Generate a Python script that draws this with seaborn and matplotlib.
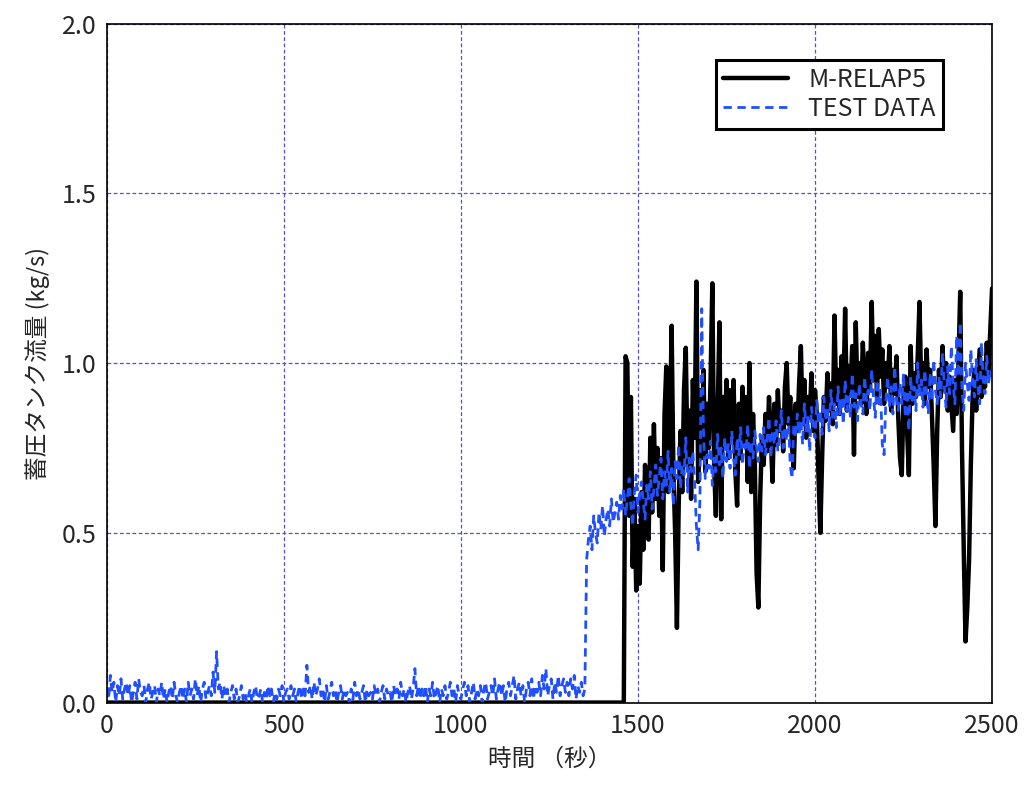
import numpy as np
import pandas as pd
import seaborn as sns
import matplotlib.pyplot as plt
from matplotlib.ticker import MultipleLocator

sns.set_style("white")
plt.rcParams['font.family'] = ['Noto Sans CJK JP', 'DejaVu Sans']

# TEST DATA, before injection : every 5 s from 0 to 1350 s
test_flow_pre = [
    0.04, 0.01, 0.08, 0.03, 0.06, 0.00, 0.05, 0.02, 0.07, 0.01, 0.04, 0.06, 0.02, 0.05, 0.00, 0.03, 0.06, 0.01, 0.07, 0.03,
    0.02, 0.05, 0.00, 0.04, 0.06, 0.01, 0.03, 0.05, 0.00, 0.04, 0.02, 0.06, 0.01, 0.04, 0.00, 0.03, 0.05, 0.01, 0.06, 0.02,
    0.00, 0.03, 0.05, 0.01, 0.04, 0.00, 0.06, 0.02, 0.04, 0.01, 0.07, 0.02, 0.05, 0.00, 0.04, 0.06, 0.01, 0.03, 0.05, 0.02,
    0.09, 0.03, 0.15, 0.04, 0.06, 0.01, 0.05, 0.02, 0.04, 0.00, 0.03, 0.05, 0.01, 0.04, 0.00, 0.02, 0.05, 0.01, 0.03, 0.00,
    0.02, 0.04, 0.00, 0.03, 0.05, 0.01, 0.02, 0.04, 0.00, 0.03, 0.01, 0.05, 0.02, 0.04, 0.00, 0.03, 0.01, 0.04, 0.02, 0.05,
    0.00, 0.03, 0.04, 0.01, 0.05, 0.02, 0.04, 0.00, 0.03, 0.05, 0.01, 0.04, 0.02, 0.11, 0.03, 0.05, 0.01, 0.06, 0.02, 0.04,
    0.07, 0.02, 0.04, 0.00, 0.05, 0.01, 0.03, 0.06, 0.02, 0.04, 0.00, 0.03, 0.05, 0.01, 0.04, 0.02, 0.03, 0.00, 0.04, 0.01,
    0.06, 0.02, 0.04, 0.01, 0.03, 0.05, 0.00, 0.04, 0.02, 0.03, 0.01, 0.05, 0.02, 0.04, 0.00, 0.03, 0.05, 0.01, 0.04, 0.02,
    0.03, 0.00, 0.05, 0.02, 0.04, 0.01, 0.06, 0.02, 0.04, 0.00, 0.03, 0.05, 0.01, 0.04, 0.10, 0.02, 0.05, 0.01, 0.04, 0.02,
    0.05, 0.00, 0.04, 0.02, 0.06, 0.01, 0.03, 0.05, 0.00, 0.04, 0.02, 0.05, 0.01, 0.03, 0.06, 0.02, 0.04, 0.00, 0.05, 0.02,
    0.01, 0.04, 0.06, 0.02, 0.05, 0.00, 0.03, 0.06, 0.01, 0.04, 0.02, 0.05, 0.00, 0.04, 0.06, 0.01, 0.03, 0.05, 0.02, 0.07,
    0.01, 0.04, 0.06, 0.02, 0.05, 0.00, 0.04, 0.06, 0.02, 0.05, 0.08, 0.01, 0.04, 0.06, 0.02, 0.05, 0.00, 0.04, 0.06, 0.02,
    0.07, 0.01, 0.05, 0.03, 0.06, 0.02, 0.08, 0.04, 0.10, 0.02, 0.05, 0.07, 0.01, 0.06, 0.03, 0.08, 0.02, 0.05, 0.07, 0.03,
    0.06, 0.02, 0.07, 0.04, 0.08, 0.01, 0.05, 0.03, 0.06, 0.02, 0.04,
]

# TEST DATA, after injection : every 5 s from 1355 to 2500 s
test_flow_post = [
    0.42, 0.48, 0.52, 0.45, 0.55, 0.50, 0.47, 0.56, 0.51, 0.58, 0.49, 0.54, 0.57, 0.52, 0.60, 0.53, 0.56, 0.59, 0.54, 0.61,
    0.57, 0.63, 0.55, 0.60, 0.66, 0.58, 0.52, 0.62, 0.67, 0.56, 0.61, 0.65, 0.59, 0.54, 0.64, 0.60, 0.68, 0.57, 0.63, 0.70,
    0.61, 0.66, 0.72, 0.60, 0.68, 0.64, 0.74, 0.62, 0.69, 0.58, 0.71, 0.66, 0.76, 0.63, 0.70, 0.67, 0.78, 0.62, 0.72, 0.68,
    0.74, 0.65, 0.52, 0.45, 0.60, 1.16, 0.80, 0.66, 0.73, 0.69, 0.77, 0.64, 0.72, 0.68, 0.79, 0.70, 0.75, 0.66, 0.78, 0.71,
    0.76, 0.69, 0.80, 0.72, 0.67, 0.78, 0.73, 0.81, 0.70, 0.76, 0.74, 0.82, 0.69, 0.77, 0.72, 0.80, 0.75, 0.71, 0.79, 0.74,
    0.81, 0.73, 0.78, 0.84, 0.72, 0.80, 0.76, 0.83, 0.74, 0.79, 0.86, 0.75, 0.81, 0.77, 0.84, 0.70, 0.66, 0.82, 0.78, 0.85,
    0.79, 0.83, 0.76, 0.88, 0.80, 0.84, 0.74, 0.87, 0.81, 0.78, 0.89, 0.82, 0.86, 0.79, 0.90, 0.83, 0.87, 0.80, 0.92, 0.84,
    0.88, 0.81, 0.93, 0.85, 0.89, 0.82, 0.95, 0.86, 0.90, 0.84, 0.97, 0.87, 0.91, 0.83, 0.94, 0.88, 0.85, 0.96, 0.89, 0.92,
    0.86, 0.98, 0.90, 0.84, 0.95, 0.88, 0.92, 0.76, 0.73, 0.89, 0.96, 0.87, 0.93, 0.85, 0.99, 0.90, 0.86, 0.94, 0.88, 0.97,
    0.84, 0.92, 0.80, 0.96, 0.89, 0.93, 0.86, 1.00, 0.90, 0.95, 0.87, 0.98, 0.91, 0.85, 0.97, 0.89, 1.01, 0.92, 0.88, 0.96,
    0.90, 1.03, 0.93, 0.87, 0.99, 0.91, 1.05, 0.94, 0.88, 1.08, 0.96, 1.12, 0.92, 0.86, 1.00, 0.94, 0.89, 1.04, 0.95, 0.90,
    1.01, 0.93, 0.88, 1.06, 0.95, 0.91, 1.02, 0.94, 0.98, 0.96,
]

# M-RELAP5 : zero until 1460 s, then every 5 s from 1460 to 2500 s
relap_flow = [
    0.00, 1.02, 1.00, 0.55, 0.90, 0.40, 0.60, 0.33, 0.52, 0.35, 0.62, 0.45, 0.70, 0.50, 0.48, 0.78, 0.56, 0.82, 0.60, 0.75,
    0.55, 0.72, 0.39, 0.85, 0.99, 0.62, 0.78, 1.11, 0.68, 0.50, 0.22, 0.58, 0.80, 0.62, 0.92, 1.045, 0.70, 0.86, 0.60, 0.95,
    0.78, 1.24, 0.65, 0.92, 0.72, 0.98, 0.68, 0.88, 0.75, 0.95, 1.235, 0.70, 0.55, 0.85, 1.12, 0.54, 0.90, 0.78, 0.95, 0.72,
    0.92, 0.80, 0.95, 0.68, 0.58, 0.88, 0.72, 0.93, 0.76, 0.90, 0.65, 1.00, 0.62, 0.85, 0.70, 0.38, 0.28, 0.60, 0.78, 0.70,
    0.85, 0.74, 0.90, 0.78, 0.65, 0.88, 0.76, 0.92, 0.80, 0.86, 0.74, 0.93, 1.00, 0.82, 0.90, 0.75, 0.69, 0.88, 0.80, 0.94,
    1.05, 0.82, 0.95, 0.78, 0.90, 0.84, 0.97, 0.80, 0.92, 0.85, 0.66, 0.50, 0.72, 0.90, 0.83, 0.97, 0.86, 0.94, 0.82, 1.14,
    0.88, 0.98, 0.85, 1.02, 0.90, 1.16, 0.86, 0.99, 0.92, 1.05, 0.73, 1.12, 0.90, 1.00, 0.88, 1.06, 0.94, 0.85, 1.03, 0.92,
    1.18, 0.95, 1.08, 0.90, 1.10, 0.96, 1.04, 0.88, 1.00, 0.93, 1.05, 0.86, 0.98, 0.91, 1.02, 0.84, 0.72, 0.67, 0.90, 0.96,
    0.80, 0.67, 1.05, 0.88, 0.97, 0.90, 1.02, 1.18, 0.92, 1.00, 0.88, 1.04, 0.93, 0.98, 0.85, 0.70, 0.52, 0.80, 0.98, 0.90,
    1.05, 0.92, 1.00, 0.86, 0.96, 0.88, 0.80, 0.95, 0.85, 1.00, 1.21, 0.75, 0.45, 0.18, 0.28, 0.42, 0.70, 0.90, 0.98, 0.86,
    0.95, 1.04, 0.90, 1.00, 0.93, 1.06, 0.97, 1.10, 1.22,
]

test_time = np.concatenate([np.arange(len(test_flow_pre)) * 5,
                            1355 + np.arange(len(test_flow_post)) * 5])
relap_time = np.concatenate([[0], 1460 + np.arange(len(relap_flow)) * 5])

test_df = pd.DataFrame({"time": test_time, "flow": test_flow_pre + test_flow_post})
relap_df = pd.DataFrame({"time": relap_time, "flow": [0.0] + relap_flow})

fig = plt.figure(figsize=(10.27, 7.85), dpi=100)
ax = fig.add_axes([0.104, 0.105, 0.862, 0.865])

sns.lineplot(data=relap_df, x="time", y="flow", ax=ax, color="black",
             linewidth=3.2, label="M-RELAP5", estimator=None, sort=False)
sns.lineplot(data=test_df, x="time", y="flow", ax=ax, color="#1f4fff",
             linewidth=2.0, linestyle=(0, (3, 2)), label="TEST DATA",
             estimator=None, sort=False)

ax.set_xlim(0, 2500)
ax.set_ylim(0, 2.0)
ax.xaxis.set_major_locator(MultipleLocator(500))
ax.yaxis.set_major_locator(MultipleLocator(0.5))
ax.yaxis.set_major_formatter(plt.FuncFormatter(lambda v, p: f"{v:.1f}"))
ax.grid(True, color="#5050d0", linestyle=(0, (3, 2)), linewidth=0.9)
ax.tick_params(labelsize=18, length=4, direction="out")
for s in ax.spines.values():
    s.set_color("black")
    s.set_linewidth(1.2)

ax.set_xlabel("時間 （秒）", fontsize=17, labelpad=6)
ax.set_ylabel("蓄圧タンク流量 (kg/s)", fontsize=17, labelpad=8)

leg = ax.legend(loc="upper right", bbox_to_anchor=(0.945, 0.947), borderaxespad=0,
                fontsize=18, frameon=True, fancybox=False, handlelength=2.6,
                borderpad=0.3, labelspacing=0.1, handletextpad=0.8)
leg.get_frame().set_edgecolor("black")
leg.get_frame().set_linewidth(2.2)
leg.get_frame().set_alpha(1)

fig.savefig("out.png", dpi=100)
